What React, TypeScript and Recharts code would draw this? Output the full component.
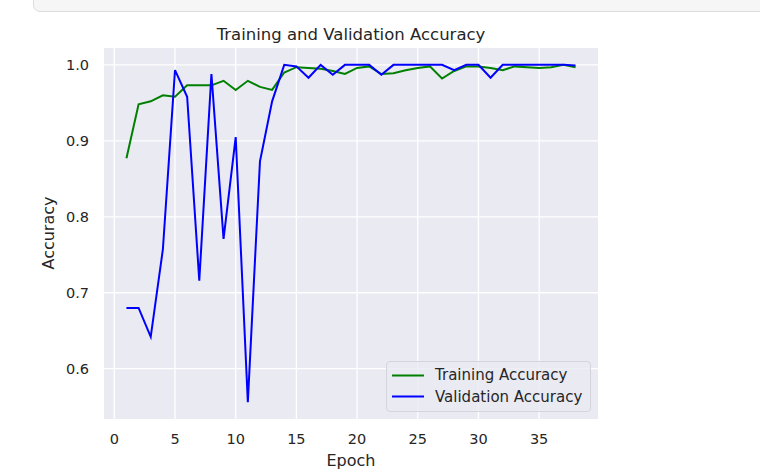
import React from 'react';
import { LineChart, Line, XAxis, YAxis, CartesianGrid } from 'recharts';

const epochs = [1,2,3,4,5,6,7,8,9,10,11,12,13,14,15,16,17,18,19,20,21,22,23,24,25,26,27,28,29,30,31,32,33,34,35,36,37,38];
const trainingAccuracy = [0.877,0.948,0.952,0.960,0.958,0.973,0.973,0.973,0.979,0.967,0.979,0.971,0.967,0.990,0.997,0.996,0.995,0.992,0.988,0.996,0.998,0.988,0.989,0.993,0.996,0.998,0.982,0.992,0.998,0.998,0.996,0.993,0.998,0.997,0.996,0.997,1.000,0.997];
const validationAccuracy = [0.680,0.680,0.642,0.757,0.993,0.958,0.716,0.988,0.771,0.905,0.556,0.873,0.952,1.000,0.998,0.983,1.000,0.987,1.000,1.000,1.000,0.987,1.000,1.000,1.000,1.000,1.000,0.993,1.000,1.000,0.983,1.000,1.000,1.000,1.000,1.000,1.000,0.999];
const xTicks = [0,5,10,15,20,25,30,35];
const yTicks = [0.6,0.7,0.8,0.9,1.0];
const seriesNames = ['Training Accuracy', 'Validation Accuracy'];
const seriesColors = ['#008000', '#0000FF'];

const data = epochs.map((e, i) => ({ epoch: e, train: trainingAccuracy[i], val: validationAccuracy[i] }));

const FONT = '"DejaVu Sans", sans-serif';
const TXT = '#262626';

export default function App() {
  return (
    <div style={{ position: 'absolute', left: 0, top: 0, width: 760, height: 473, background: '#fff', overflow: 'hidden', fontFamily: FONT }}>
      <div style={{ position: 'absolute', left: 33, top: -12, width: 760, height: 22, border: '1px solid #dcdcdc', borderRadius: 7, background: '#f6f6f7' }} />
      <LineChart width={760} height={473} data={data} margin={{ top: 48, right: 162, bottom: 24, left: 44 }} style={{ position: 'absolute', left: 0, top: 0 }}>
        <CartesianGrid fill="#EAEAF2" stroke="#ffffff" strokeWidth={1.3} horizontalValues={yTicks} verticalValues={xTicks} />
        <XAxis dataKey="epoch" type="number" domain={[-0.85, 39.85]} ticks={xTicks} allowDataOverflow height={30}
          axisLine={false} tickLine={false} tickSize={6} tickMargin={9}
          tick={{ fill: TXT, fontSize: 14.5, fontFamily: FONT }} interval={0} />
        <YAxis type="number" domain={[0.5338, 1.0222]} ticks={yTicks} allowDataOverflow width={60}
          axisLine={false} tickLine={false} tickSize={6} tickMargin={9}
          tickFormatter={(v: number) => v.toFixed(1)}
          tick={{ fill: TXT, fontSize: 14.5, fontFamily: FONT }} interval={0} />
        <Line type="linear" dataKey="train" name={seriesNames[0]} stroke={seriesColors[0]} strokeWidth={2} dot={false} activeDot={false} isAnimationActive={false} />
        <Line type="linear" dataKey="val" name={seriesNames[1]} stroke={seriesColors[1]} strokeWidth={2} dot={false} activeDot={false} isAnimationActive={false} />
      </LineChart>
      <div style={{ position: 'absolute', left: 151, width: 400, top: 24, textAlign: 'center', fontSize: 16.5, color: TXT, lineHeight: '22px' }}>Training and Validation Accuracy</div>
      <div style={{ position: 'absolute', left: 251, width: 200, top: 450, textAlign: 'center', fontSize: 16, color: TXT, lineHeight: '22px' }}>Epoch</div>
      <div style={{ position: 'absolute', left: 49 - 100, top: 233 - 11, width: 200, textAlign: 'center', fontSize: 16, color: TXT, lineHeight: '22px', transform: 'rotate(-90deg)' }}>Accuracy</div>
      <div style={{ position: 'absolute', left: 386, top: 361, width: 205, height: 51, boxSizing: 'border-box', border: '1px solid #d4d4dc', borderRadius: 4, background: 'rgba(234,234,242,0.8)' }}>
        {seriesNames.map((n, i) => (
          <div key={n} style={{ position: 'absolute', left: 0, top: 2.5 + i * 21.7, height: 21, display: 'flex', alignItems: 'center' }}>
            <svg width={48} height={21} style={{ display: 'block' }}>
              <line x1={5} x2={37} y1={10.5} y2={10.5} stroke={seriesColors[i]} strokeWidth={2} />
            </svg>
            <span style={{ fontSize: 15, color: TXT, whiteSpace: 'nowrap' }}>{n}</span>
          </div>
        ))}
      </div>
    </div>
  );
}
